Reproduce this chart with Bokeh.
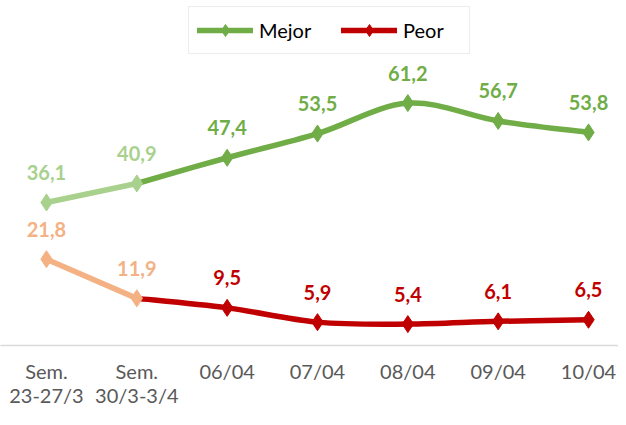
import numpy as np
from bokeh.plotting import figure
from bokeh.models import ColumnDataSource, FixedTicker, Legend, LegendItem, Range1d, LinearAxis
from bokeh.core.properties import value
from bokeh.embed import file_html
from bokeh.resources import INLINE

# ---- data ----
cat_line1 = ["Sem.", "Sem.", "06/04", "07/04", "08/04", "09/04", "10/04"]
cat_line2 = ["23-27/3", "30/3-3/4", "", "", "", "", ""]
mejor = [36.1, 40.9, 47.4, 53.5, 61.2, 56.7, 53.8]
peor = [21.8, 11.9, 9.5, 5.9, 5.4, 6.1, 6.5]
series_names = ["Mejor", "Peor"]

# ---- style ----
GREEN, GREEN_L = "#70ad47", "#a9d18e"
RED, RED_L = "#c00000", "#f4b183"
FONT = "Lato"
N_LIGHT = 2  # first two points drawn in the lighter tone

xs = list(range(len(cat_line1)))

p = figure(width=618, height=409, output_backend="svg", toolbar_location=None,
           x_range=Range1d(-0.509, 6.332), y_range=Range1d(0, 87.1),
           min_border_left=0, min_border_right=0, min_border_top=0, min_border_bottom=0)
p.background_fill_color = "white"
p.border_fill_color = "white"
p.outline_line_color = None
p.xgrid.visible = False
p.ygrid.visible = False
p.yaxis.visible = False


def bezier_source(x, y):
    X = np.array(x, float)
    Y = np.array(y, float)
    n = len(X)
    Xp = np.concatenate([[X[0]], X, [X[-1]]])
    Yp = np.concatenate([[Y[0]], Y, [Y[-1]]])
    return ColumnDataSource(dict(
        x0=X[:-1], y0=Y[:-1], x1=X[1:], y1=Y[1:],
        cx0=X[:-1] + (Xp[2:n + 1] - Xp[0:n - 1]) / 6.0,
        cy0=Y[:-1] + (Yp[2:n + 1] - Yp[0:n - 1]) / 6.0,
        cx1=X[1:] - (Xp[3:n + 2] - Xp[1:n]) / 6.0,
        cy1=Y[1:] - (Yp[3:n + 2] - Yp[1:n]) / 6.0,
    ))


legend_items = []
for name, vals, dark, light in [(series_names[0], mejor, GREEN, GREEN_L),
                                (series_names[1], peor, RED, RED_L)]:
    dx = xs[N_LIGHT - 1:]
    dy = vals[N_LIGHT - 1:]
    curve = p.bezier(x0="x0", y0="y0", x1="x1", y1="y1", cx0="cx0", cy0="cy0",
                     cx1="cx1", cy1="cy1", source=bezier_source(dx, dy),
                     line_color=dark, line_width=5.5, line_cap="round")
    dmark = p.scatter(xs[N_LIGHT:], vals[N_LIGHT:], marker="diamond", size=17,
                      fill_color=dark, line_color=dark)
    p.line(xs[:N_LIGHT], vals[:N_LIGHT], line_color=light, line_width=5.5, line_cap="round")
    p.scatter(xs[:N_LIGHT], vals[:N_LIGHT], marker="diamond", size=17,
              fill_color=light, line_color=light)
    src = ColumnDataSource(dict(
        x=xs, y=vals,
        t=[("%.1f" % v).replace(".", ",") for v in vals],
        c=[light if i < N_LIGHT else dark for i in range(len(vals))],
    ))
    p.text(x="x", y="y", text="t", text_color="c", source=src,
           text_font=value(FONT), text_font_style="bold", text_font_size="20px",
           text_align="center", text_baseline="middle", y_offset=-30)
    legend_items.append(LegendItem(label=name, renderers=[curve, dmark]))

legend = Legend(items=legend_items, orientation="horizontal", location=(188, 291),
                margin=0, padding=8, spacing=24, label_standoff=6,
                glyph_width=56, glyph_height=30, label_width=58,
                label_text_font=FONT, label_text_font_size="20px", label_text_color="#000000",
                border_line_color="#d9d9d9", border_line_width=1.5,
                background_fill_color="white", background_fill_alpha=1.0)
p.add_layout(legend)

ax = p.xaxis[0]
ax.ticker = FixedTicker(ticks=xs)
ax.major_label_overrides = {i: c for i, c in enumerate(cat_line1)}
ax.major_label_standoff = 7
ax.axis_line_color = "#d9d9d9"
ax.axis_line_width = 1.5

ax2 = LinearAxis(ticker=FixedTicker(ticks=xs),
                 major_label_overrides={i: c for i, c in enumerate(cat_line2)},
                 major_label_standoff=-9, axis_line_color=None)
p.add_layout(ax2, "below")

for a in (ax, ax2):
    a.major_label_text_font = FONT
    a.major_label_text_font_size = "20px"
    a.major_label_text_color = "#595959"
    a.major_tick_line_color = None
    a.minor_tick_line_color = None

open("out.html", "w").write(file_html(p, INLINE))
